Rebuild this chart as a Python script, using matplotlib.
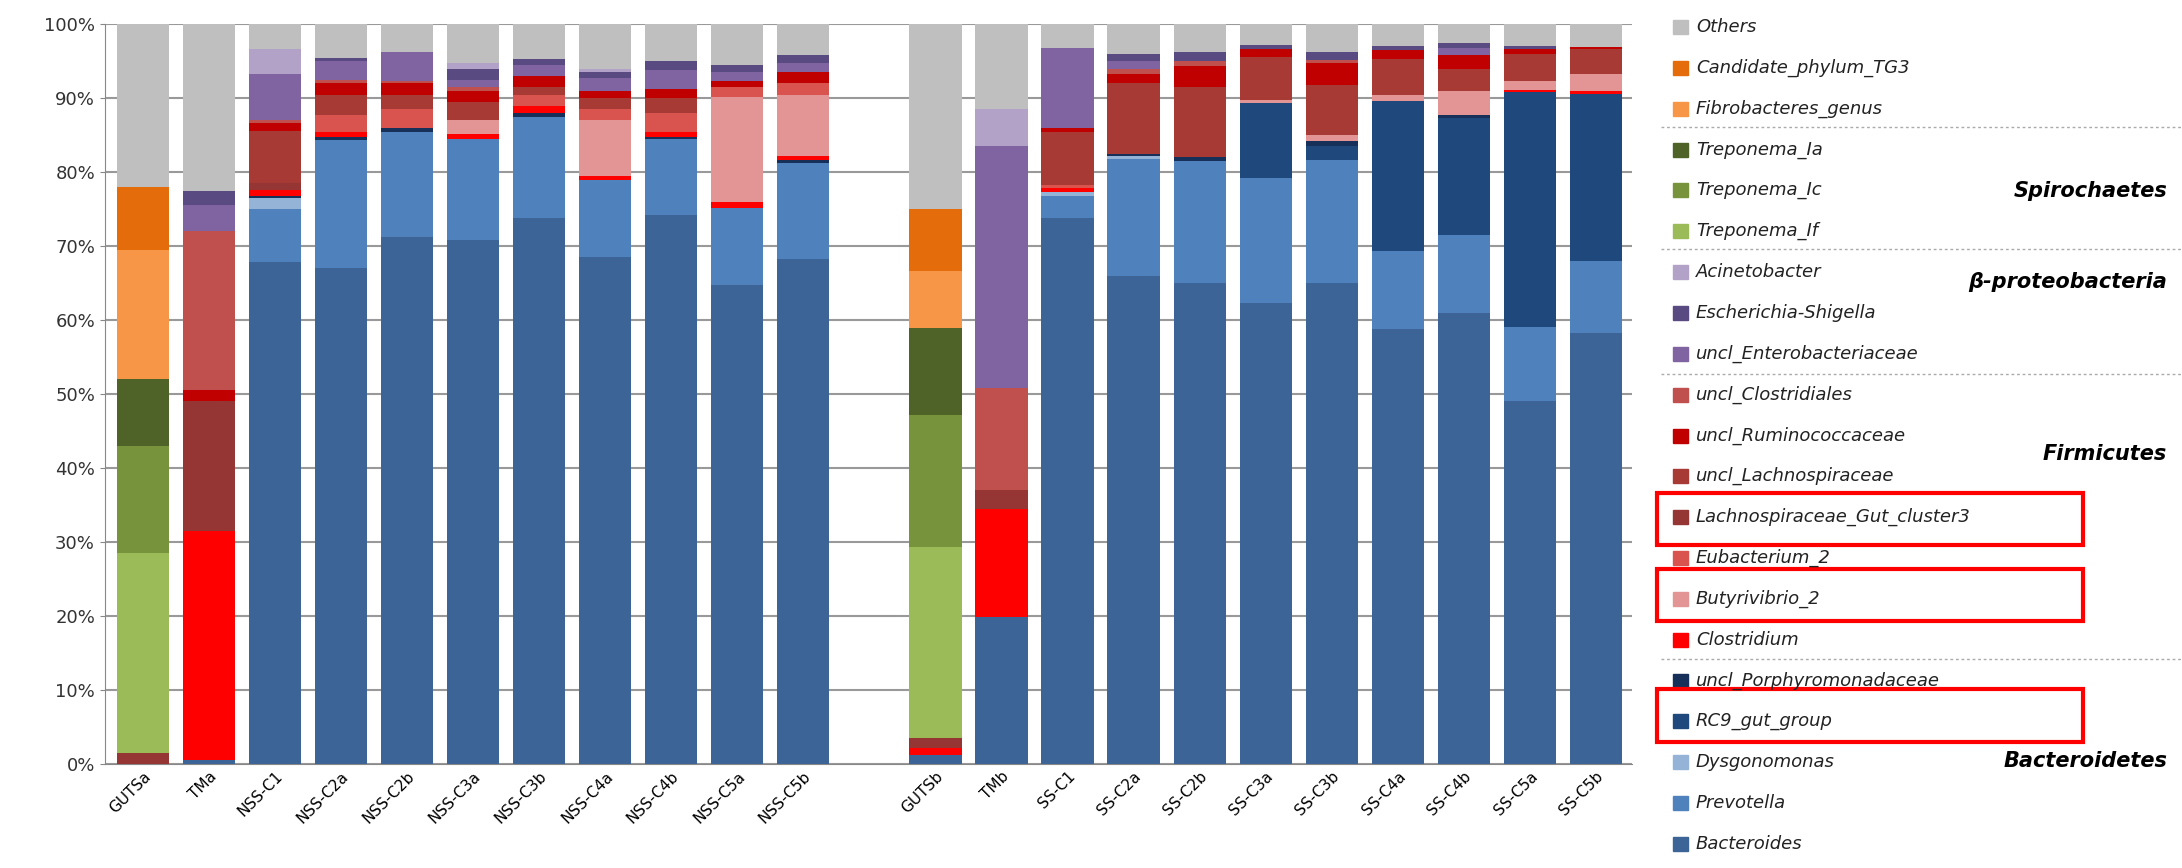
import matplotlib
matplotlib.use("Agg")
import matplotlib.pyplot as plt
from matplotlib.patches import Rectangle
from matplotlib.lines import Line2D

samples = ["GUTSa", "TMa", "NSS-C1", "NSS-C2a", "NSS-C2b", "NSS-C3a", "NSS-C3b",
           "NSS-C4a", "NSS-C4b", "NSS-C5a", "NSS-C5b",
           "GUTSb", "TMb", "SS-C1", "SS-C2a", "SS-C2b", "SS-C3a", "SS-C3b",
           "SS-C4a", "SS-C4b", "SS-C5a", "SS-C5b"]

# relative abundance (%) per taxon, stacked bottom -> top
bacteroides = [0, 0.5, 67.8, 67, 71.2, 70.8, 73.8, 68.5, 74.2, 64.8, 68.2,
               1.2, 19.8, 73.8, 66, 65, 62.3, 65, 58.8, 60.9, 49, 58.3]
prevotella = [0, 0, 7.2, 17.3, 14.3, 13.7, 13.7, 10.5, 10.3, 10.4, 13,
              0, 0, 3, 15.8, 16.5, 16.9, 16.6, 10.6, 10.6, 10.1, 9.7]
dysgonomonas = [0, 0, 1.5, 0, 0, 0, 0, 0, 0, 0, 0,
                0, 0, 0.5, 0.4, 0, 0, 0, 0, 0, 0, 0]
rc9 = [0, 0, 0, 0, 0, 0, 0, 0, 0, 0, 0,
       0, 0, 0, 0, 0, 10.1, 2.0, 20.2, 15.8, 31.7, 22.6]
porphyro = [0, 0, 0.3, 0.5, 0.5, 0, 0.5, 0, 0.3, 0, 0.5,
            0, 0, 0, 0.3, 0.5, 0, 0.6, 0, 0.4, 0, 0]
clostridium = [0, 31, 0.8, 0.7, 0, 0.7, 1.0, 0.5, 0.7, 0.8, 0.5,
               1.0, 14.7, 0.5, 0, 0, 0, 0, 0, 0, 0.3, 0.4]
butyrivibrio = [0, 0, 0, 0, 0, 1.8, 0, 7.5, 0, 14.2, 8.3,
                0, 0, 0, 0, 0, 0.5, 0.8, 0.8, 3.3, 1.2, 2.3]
eubacterium = [0, 0, 0, 2.3, 2.5, 0, 1.5, 1.5, 2.5, 1.3, 1.5,
               0, 0, 0.5, 0, 0, 0, 0, 0, 0, 0, 0]
lachno_gc3 = [1.5, 17.5, 1, 0, 0, 0, 0, 0, 0, 0, 0,
              1.3, 2.5, 0, 0, 0, 0, 0, 0, 0, 0, 0]
uncl_lachno = [0, 0, 7, 2.7, 2, 2.5, 1, 1.5, 2, 0, 0,
               0, 0, 7.2, 9.5, 9.5, 5.8, 6.8, 4.9, 3, 3.7, 3.3]
uncl_rumino = [0, 1.5, 1, 1.5, 1.5, 1.5, 1.5, 1, 1.3, 0.8, 1.5,
               0, 0, 0.5, 1.3, 2.8, 1.1, 2.9, 1.2, 1.9, 0.6, 0.3]
uncl_clostridiales = [0, 21.5, 0.5, 0.5, 0.3, 0.5, 0, 0, 0, 0, 0,
                      0, 13.8, 0, 0.7, 0.7, 0, 0.5, 0, 0, 0, 0]
uncl_entero = [0, 3.5, 6.2, 2.5, 4, 1, 1.5, 1.8, 2.5, 1.2, 1.3,
               0, 32.7, 10.8, 1, 0, 0, 0, 0, 0.9, 0, 0]
escherichia = [0, 2, 0, 0.5, 0, 1.5, 0.8, 0.7, 1.2, 1, 1,
               0, 0, 0, 1, 1.2, 0.5, 1, 0.5, 0.7, 0.4, 0]
acinetobacter = [0, 0, 3.3, 0, 0, 0.8, 0, 0.5, 0, 0, 0,
                 0, 5, 0, 0, 0, 0, 0, 0, 0, 0, 0]
treponema_if = [27, 0, 0, 0, 0, 0, 0, 0, 0, 0, 0,
                25.8, 0, 0, 0, 0, 0, 0, 0, 0, 0, 0]
treponema_ic = [14.5, 0, 0, 0, 0, 0, 0, 0, 0, 0, 0,
                17.9, 0, 0, 0, 0, 0, 0, 0, 0, 0, 0]
treponema_ia = [9, 0, 0, 0, 0, 0, 0, 0, 0, 0, 0,
                11.8, 0, 0, 0, 0, 0, 0, 0, 0, 0, 0]
fibrobacteres = [17.5, 0, 0, 0, 0, 0, 0, 0, 0, 0, 0,
                 7.7, 0, 0, 0, 0, 0, 0, 0, 0, 0, 0]
tg3 = [8.5, 0, 0, 0, 0, 0, 0, 0, 0, 0, 0,
       8.3, 0, 0, 0, 0, 0, 0, 0, 0, 0, 0]
others = [22, 22.5, 3.4, 4.5, 3.7, 5.2, 4.7, 6, 5, 5.5, 4.2,
          25, 11.5, 3.2, 4, 3.8, 2.8, 3.8, 3, 2.5, 3, 3.1]

taxa = [
    ("Bacteroides", bacteroides, "#3d6496"),
    ("Prevotella", prevotella, "#4f81bd"),
    ("Dysgonomonas", dysgonomonas, "#95b3d7"),
    ("RC9_gut_group", rc9, "#1f487c"),
    ("uncl_Porphyromonadaceae", porphyro, "#17305a"),
    ("Clostridium", clostridium, "#ff0000"),
    ("Butyrivibrio_2", butyrivibrio, "#e39595"),
    ("Eubacterium_2", eubacterium, "#d9534f"),
    ("Lachnospiraceae_Gut_cluster3", lachno_gc3, "#963634"),
    ("uncl_Lachnospiraceae", uncl_lachno, "#a83a36"),
    ("uncl_Ruminococcaceae", uncl_rumino, "#c00000"),
    ("uncl_Clostridiales", uncl_clostridiales, "#c0504d"),
    ("uncl_Enterobacteriaceae", uncl_entero, "#8064a2"),
    ("Escherichia-Shigella", escherichia, "#5a4a82"),
    ("Acinetobacter", acinetobacter, "#b3a2c7"),
    ("Treponema_If", treponema_if, "#9bbb59"),
    ("Treponema_Ic", treponema_ic, "#77933c"),
    ("Treponema_Ia", treponema_ia, "#4f6228"),
    ("Fibrobacteres_genus", fibrobacteres, "#f79646"),
    ("Candidate_phylum_TG3", tg3, "#e46c0a"),
    ("Others", others, "#bfbfbf"),
]

fig = plt.figure(figsize=(21.82, 8.68), dpi=100)
ax = fig.add_axes([0.048, 0.12, 0.70, 0.852])

# leave one empty slot between the two groups
xpos = [i if i < 11 else i + 1 for i in range(len(samples))]
bottom = [0.0] * len(samples)
for name, vals, color in taxa:
    ax.bar(xpos, vals, bottom=bottom, width=0.79, color=color, zorder=3)
    bottom = [b + v for b, v in zip(bottom, vals)]

ax.set_xlim(-0.58, 22.55)
ax.set_ylim(0, 100)
ax.set_yticks(range(0, 101, 10))
ax.set_yticklabels([f"{v}%" for v in range(0, 101, 10)], fontsize=13, color="#333333")
ax.set_xticks(xpos)
ax.set_xticklabels(samples, rotation=45, ha="right", rotation_mode="anchor", fontsize=11)
ax.yaxis.grid(True, color="#999999", linewidth=1.5, zorder=0)
for s in ["top", "right"]:
    ax.spines[s].set_visible(False)
ax.spines["left"].set_color("#888888")
ax.spines["bottom"].set_color("#888888")
ax.tick_params(axis="x", length=0)
ax.tick_params(axis="y", color="#888888")

# legend (top item = Others)
W, H = 2182, 868
leg_items = list(reversed(taxa))
for k, (name, vals, color) in enumerate(leg_items):
    y = 27 + k * 40.85
    fig.patches.append(Rectangle((1673 / W, 1 - (y + 7) / H), 15 / W, 14 / H,
                                 transform=fig.transFigure, color=color))
    fig.text(1696 / W, 1 - y / H, name, fontsize=13, style="italic",
             va="center", ha="left", color="#222222")

for y in [127, 249, 374, 659]:
    fig.lines.append(Line2D([1661 / W, 1.0], [1 - y / H] * 2, transform=fig.transFigure,
                            color="#aaaaaa", linestyle=(0, (2, 2)), linewidth=1))

for label, y in [("Spirochaetes", 191), ("β-proteobacteria", 282),
                 ("Firmicutes", 454), ("Bacteroidetes", 761)]:
    fig.text(2167 / W, 1 - y / H, label, fontsize=15, weight="bold", style="italic",
             ha="right", va="center")

for y0, y1 in [(493, 545), (569, 621), (689, 742)]:
    fig.patches.append(Rectangle((1657 / W, 1 - y1 / H), (2083 - 1657) / W, (y1 - y0) / H,
                                 transform=fig.transFigure, fill=False,
                                 edgecolor="#ff0000", linewidth=3))

fig.savefig("out.png", dpi=100)
